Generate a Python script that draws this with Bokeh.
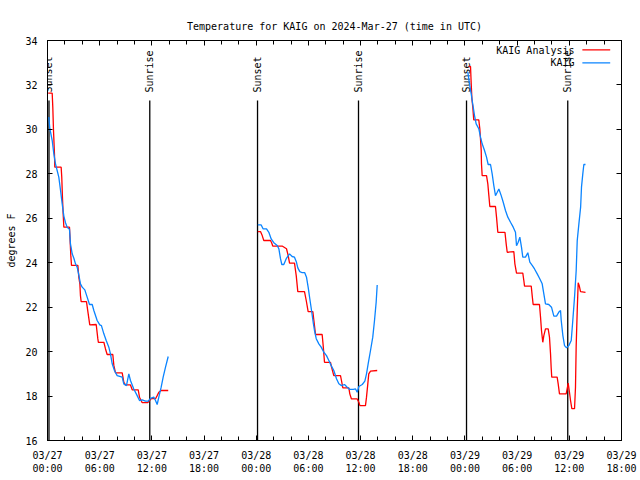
import math
from bokeh.plotting import figure
from bokeh.models import FixedTicker, LinearAxis, Range1d, Label, Arrow
from bokeh.core.properties import value
from bokeh.embed import file_html
from bokeh.resources import INLINE

FONT = "DejaVu Sans Mono"

# ---- data (hours since 2024-03-27 00:00 UTC, degrees F) ----
x_ticks = [0, 6, 12, 18, 24, 30, 36, 42, 48, 54, 60, 66]
x_tick_labels = ["03/27\n00:00", "03/27\n06:00", "03/27\n12:00", "03/27\n18:00",
                 "03/28\n00:00", "03/28\n06:00", "03/28\n12:00", "03/28\n18:00",
                 "03/29\n00:00", "03/29\n06:00", "03/29\n12:00", "03/29\n18:00"]
y_ticks = [16, 18, 20, 22, 24, 26, 28, 30, 32, 34]

sunset_h = [0.17, 24.15, 48.18]
sunrise_h = [11.76, 35.76, 59.82]

obs_t1 = [0.15, 0.27, 0.54, 0.73, 0.92, 1.11, 1.30, 1.50, 1.69, 1.88, 2.07, 2.26, 2.53, 2.64, 2.84,
          3.03, 3.22, 3.41, 3.60, 3.79, 3.99, 4.29, 4.56, 4.83, 5.14, 5.33, 5.71, 6.01, 6.20, 6.48,
          6.75, 7.05, 7.24, 7.44, 7.70, 8.01, 8.59, 8.77, 9.08, 9.35, 9.54, 9.92, 10.31, 10.58,
          10.89, 11.27, 11.58, 11.84, 12.22, 12.42, 12.61, 12.80, 13.07, 13.30, 13.57, 13.88]
obs_v1 = [30.55, 30.03, 29.5, 28.9, 28.45, 28.15, 27.85, 27.25, 26.65, 26.1, 25.8, 25.6, 25.5, 24.85, 24.4,
          24.2, 23.95, 23.8, 23.45, 23.05, 22.9, 22.78, 22.45, 22.12, 22.12, 21.85, 21.4, 21.2, 21.17, 20.8,
          20.5, 20.2, 19.9, 19.45, 19.15, 18.92, 18.85, 18.55, 18.47, 19.0, 18.7, 18.32, 18.02, 17.8,
          17.83, 17.77, 17.77, 17.9, 17.95, 17.8, 17.62, 17.95, 18.4, 18.85, 19.3, 19.78]

ana_t1 = [0.08, 0.54, 0.61, 0.69, 0.80, 0.84, 1.57, 1.64, 1.72, 1.80, 1.88, 2.53, 2.60, 2.68, 2.76,
          3.49, 3.60, 3.72, 3.79, 3.87, 4.48, 4.68, 4.86, 5.60, 5.79, 5.85, 6.48, 6.67, 6.86, 7.51,
          7.63, 7.82, 8.59, 8.78, 8.97, 9.54, 9.74, 10.43, 10.58, 10.89, 11.53, 11.73, 11.92, 12.42,
          12.61, 12.80, 13.07, 13.88]
ana_v1 = [31.63, 31.63, 31.0, 29.95, 28.9, 28.3, 28.3, 27.85, 26.95, 26.2, 25.6, 25.6, 25.0, 24.33, 23.88,
          23.88, 23.35, 23.05, 22.52, 22.25, 22.25, 21.7, 21.2, 21.22, 20.57, 20.42, 20.42, 20.12, 19.87, 19.87,
          19.38, 19.04, 19.04, 18.62, 18.5, 18.5, 18.28, 18.28, 17.95, 17.7, 17.7, 17.8, 17.88, 17.88,
          18.02, 18.17, 18.25, 18.25]

obs_t2 = [24.18, 24.57, 24.80, 25.18, 25.45, 25.72, 26.02, 26.41, 26.60, 26.79, 26.94, 27.17, 27.45,
          27.83, 28.13, 28.40, 28.63, 28.78, 29.01, 29.29, 29.58, 29.78, 29.97, 30.16, 30.36, 30.55,
          30.70, 30.90, 31.20, 31.47, 31.77, 32.08, 32.35, 32.62, 32.92, 33.23, 33.50, 33.80, 34.15,
          34.46, 34.76, 35.15, 35.42, 35.61, 35.80, 36.19, 36.49, 36.68, 36.87, 37.14, 37.40, 37.60,
          37.79, 37.91]
obs_v2 = [25.7, 25.7, 25.52, 25.52, 25.37, 25.07, 24.9, 24.78, 24.63, 24.18, 23.92, 23.92, 24.18,
          24.4, 24.28, 24.25, 24.02, 23.77, 23.6, 23.55, 23.55, 23.35, 22.9, 22.38, 21.85, 21.32,
          20.95, 20.58, 20.35, 20.2, 19.97, 19.82, 19.6, 19.37, 19.15, 18.78, 18.55, 18.47, 18.52,
          18.4, 18.3, 18.3, 18.32, 18.17, 18.43, 18.52, 18.67, 19.0, 19.45, 20.05, 20.65, 21.4,
          22.22, 23.0]

ana_t2 = [24.18, 24.49, 24.69, 24.87, 25.64, 25.77, 25.90, 26.98, 27.48, 27.67, 27.83, 28.40, 28.60,
          28.78, 29.55, 29.75, 29.97, 30.51, 30.63, 30.82, 31.58, 31.70, 31.85, 32.54, 32.66, 32.92,
          33.69, 33.80, 33.96, 34.65, 34.76, 34.95, 35.61, 35.80, 35.92, 36.56, 36.68, 36.83, 36.94,
          37.14, 37.91]
ana_v2 = [25.4, 25.4, 25.22, 25.0, 25.0, 24.9, 24.75, 24.75, 24.63, 24.33, 23.98, 23.98, 23.42,
          22.7, 22.7, 22.3, 21.8, 21.8, 21.4, 20.77, 20.77, 20.27, 19.52, 19.52, 19.3, 18.92,
          18.92, 18.7, 18.37, 18.37, 18.1, 17.87, 17.87, 17.72, 17.57, 17.57, 17.95, 18.55, 19.0,
          19.12, 19.15]

obs_t3 = [48.33, 48.52, 48.72, 48.83, 48.95, 49.10, 49.29, 49.59, 49.79, 49.98, 50.25, 50.48, 50.67,
          50.94, 51.13, 51.32, 51.51, 51.71, 51.90, 52.17, 52.40, 52.66, 52.93, 53.24, 53.55, 53.81,
          53.93, 54.12, 54.31, 54.50, 54.65, 54.96, 55.23, 55.46, 55.73, 56.00, 56.31, 56.60, 56.88,
          57.07, 57.26, 57.64, 57.95, 58.22, 58.53, 58.80, 58.99, 59.07, 59.26, 59.45, 59.68, 59.94,
          60.22, 60.40, 60.60, 60.79, 60.91, 61.10, 61.30, 61.40, 61.55, 61.67, 61.86]
obs_v3 = [32.58, 32.05, 31.6, 31.3, 31.0, 30.62, 30.25, 30.03, 29.65, 29.35, 29.05, 28.75, 28.42,
          28.42, 28.0, 27.47, 27.02, 27.17, 27.32, 27.02, 26.72, 26.35, 26.05, 25.82, 25.6, 25.37,
          24.77, 24.92, 25.15, 24.7, 24.25, 24.25, 24.45, 24.03, 23.88, 23.72, 23.5, 23.28, 23.05,
          22.6, 22.15, 22.12, 22.0, 21.6, 21.6, 21.78, 21.85, 21.4, 20.72, 20.27, 20.17, 20.27,
          20.5, 21.4, 22.45, 23.65, 25.0, 25.75, 26.5, 27.4, 28.0, 28.42, 28.42]

ana_t3 = [48.44, 48.64, 48.72, 48.80, 48.90, 49.01, 49.59, 49.71, 49.87, 49.90, 49.98, 50.48, 50.63,
          50.75, 50.86, 51.51, 51.63, 51.78, 52.60, 52.74, 52.86, 53.62, 53.74, 53.93, 54.65, 54.77,
          54.85, 55.62, 55.73, 55.84, 56.57, 56.69, 56.80, 56.95, 57.07, 57.26, 57.57, 57.72, 57.84,
          57.91, 57.98, 58.60, 58.72, 58.87, 59.64, 59.75, 59.87, 59.99, 60.14, 60.29, 60.60, 60.71,
          60.79, 60.91, 61.02, 61.14, 61.29, 61.86]
ana_v3 = [32.83, 32.83, 32.05, 31.38, 31.0, 30.43, 30.43, 30.03, 29.05, 28.45, 27.92, 27.92, 27.55,
          27.02, 26.53, 26.53, 26.05, 25.37, 25.37, 24.85, 24.47, 24.5, 23.95, 23.53, 23.53, 23.2,
          22.95, 22.95, 22.52, 22.12, 22.12, 21.55, 20.95, 20.42, 20.72, 21.02, 21.02, 20.65, 19.9,
          19.3, 18.85, 18.85, 18.55, 18.1, 18.1, 18.32, 18.58, 18.25, 17.8, 17.43, 17.43, 18.4,
          20.27, 21.85, 23.1, 22.97, 22.7, 22.67]

RED = "#ff0000"
BLUE = "#0a84ff"

p = figure(width=640, height=480, output_backend="svg", toolbar_location=None,
           x_range=Range1d(0, 66), y_range=Range1d(16, 34),
           min_border_left=47, min_border_right=19, min_border_top=40, min_border_bottom=40,
           title="Temperature for KAIG on 2024-Mar-27 (time in UTC)")
p.title.align = "center"
p.title.text_font = FONT
p.title.text_font_size = "10px"
p.title.text_font_style = "normal"
p.title.text_color = "black"
p.title.padding = 4
p.grid.visible = False
p.outline_line_color = "black"
p.outline_line_width = 1
p.background_fill_color = "white"
p.border_fill_color = "white"

# axes
xt = FixedTicker(ticks=x_ticks, minor_ticks=list(range(0, 67, 2)))
yt = FixedTicker(ticks=y_ticks, minor_ticks=[])
for ax in p.xaxis:
    ax.ticker = xt
    ax.major_label_overrides = {t: l for t, l in zip(x_ticks, x_tick_labels)}
for ax in p.yaxis:
    ax.ticker = yt
    ax.axis_label = "degrees F"
    ax.axis_label_text_font = FONT
    ax.axis_label_text_font_size = "10px"
    ax.axis_label_text_font_style = "normal"
    ax.axis_label_text_color = "black"
    ax.axis_label_standoff = 5

top = LinearAxis(ticker=xt, major_label_overrides={t: "" for t in x_ticks}, major_label_standoff=0)
right = LinearAxis(ticker=yt, major_label_overrides={t: "" for t in y_ticks}, major_label_standoff=0)
p.add_layout(top, "above")
p.add_layout(right, "right")

for ax in p.axis:
    ax.axis_line_color = "black"
    ax.major_tick_line_color = "black"
    ax.minor_tick_line_color = "black"
    ax.major_tick_in = 5
    ax.major_tick_out = 0
    ax.minor_tick_in = 4
    ax.minor_tick_out = 0
    ax.major_label_text_font = FONT
    ax.major_label_text_color = "black"
    ax.major_label_text_font_size = "10px"
for ax in p.xaxis:
    ax.major_label_standoff = 9
for ax in p.yaxis:
    ax.major_label_standoff = 10
top.major_label_standoff = 0
right.major_label_standoff = 0

# sunset / sunrise markers
p.segment(x0=sunset_h, y0=[16] * 3, x1=sunset_h, y1=[31.3] * 3, line_color="black", line_width=1.3)
p.segment(x0=sunrise_h, y0=[16] * 3, x1=sunrise_h, y1=[31.3] * 3, line_color="black", line_width=1.3)
p.text(x=sunset_h, y=[31.66] * 3, text=["Sunset"] * 3, angle=math.pi / 2,
       text_align="left", text_baseline="middle", text_font=value(FONT),
       text_font_size="10px", text_color="black")
p.text(x=sunrise_h, y=[31.66] * 3, text=["Sunrise"] * 3, angle=math.pi / 2,
       text_align="left", text_baseline="middle", text_font=value(FONT),
       text_font_size="10px", text_color="black")

# series
for t, v in [(ana_t1, ana_v1), (ana_t2, ana_v2), (ana_t3, ana_v3)]:
    p.line(t, v, line_color=RED, line_width=1.3)
for t, v in [(obs_t1, obs_v1), (obs_t2, obs_v2), (obs_t3, obs_v3)]:
    p.line(t, v, line_color=BLUE, line_width=1.3)

# legend (text then line sample, like the original)
p.add_layout(Label(x=60.6, y=33.55, text="KAIG Analysis", text_align="right", text_baseline="middle",
                   text_font=FONT, text_font_size="10px", text_color="black"))
p.add_layout(Label(x=60.6, y=32.99, text="KAIG", text_align="right", text_baseline="middle",
                   text_font=FONT, text_font_size="10px", text_color="black"))
p.add_layout(Arrow(end=None, x_start=61.5, y_start=33.58, x_end=64.7, y_end=33.58, line_color=RED, line_width=1.3))
p.add_layout(Arrow(end=None, x_start=61.5, y_start=32.99, x_end=64.7, y_end=32.99, line_color=BLUE, line_width=1.3))

open("out.html", "w").write(file_html(p, INLINE))
